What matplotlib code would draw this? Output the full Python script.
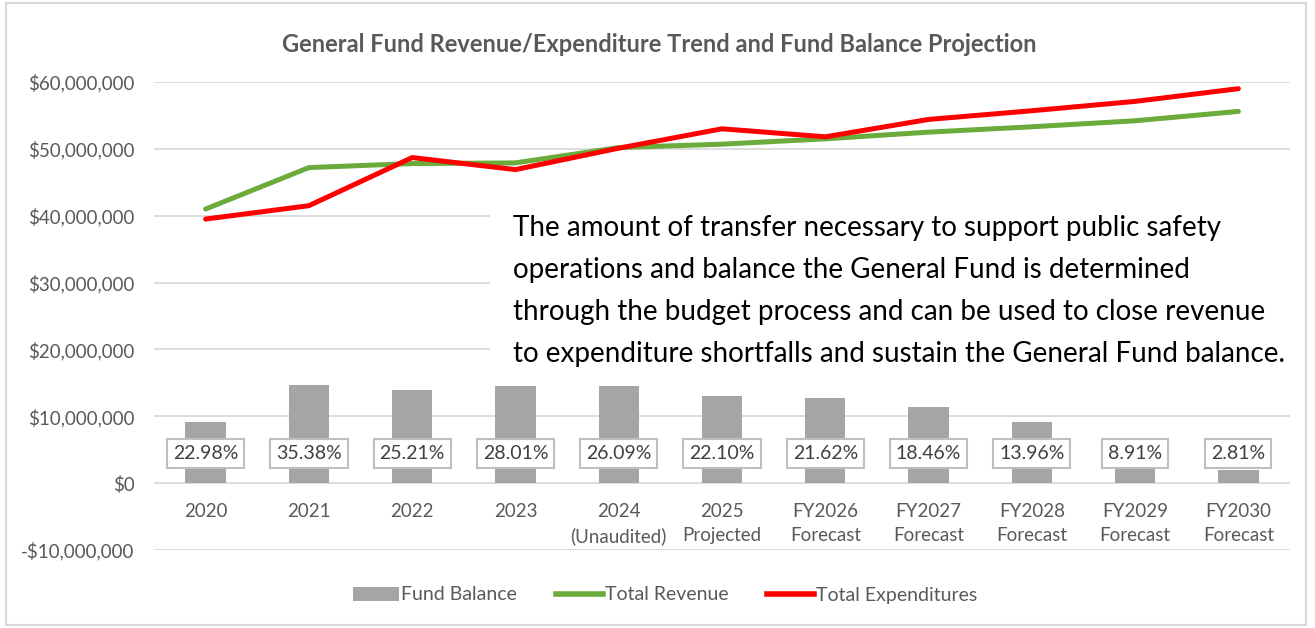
import matplotlib
matplotlib.use("Agg")
import matplotlib.pyplot as plt
from matplotlib.patches import Rectangle
from matplotlib.ticker import FuncFormatter, MultipleLocator
from matplotlib.lines import Line2D

plt.rcParams['font.family'] = ['Lato', 'DejaVu Sans']

categories = ["2020", "2021", "2022", "2023", "2024\n(Unaudited)", "2025\nProjected",
              "FY2026\nForecast", "FY2027\nForecast", "FY2028\nForecast",
              "FY2029\nForecast", "FY2030\nForecast"]
fund_balance = [9.1e6, 14.7e6, 13.9e6, 14.6e6, 14.6e6, 13.1e6, 12.7e6, 11.4e6, 9.2e6, 5.1e6, 2.0e6]
total_revenue = [41.0e6, 47.2e6, 47.8e6, 47.9e6, 50.2e6, 50.7e6, 51.5e6, 52.5e6, 53.3e6, 54.2e6, 55.6e6]
total_expenditures = [39.5e6, 41.5e6, 48.7e6, 46.9e6, 50.1e6, 53.0e6, 51.8e6, 54.4e6, 55.7e6, 57.1e6, 59.0e6]
pct_labels = ["22.98%", "35.38%", "25.21%", "28.01%", "26.09%", "22.10%",
              "21.62%", "18.46%", "13.96%", "8.91%", "2.81%"]
title = "General Fund Revenue/Expenditure Trend and Fund Balance Projection"
note_lines = ["The amount of transfer necessary to support public safety",
              "operations and balance the General Fund is determined",
              "through the budget process and can be used to close revenue",
              "to expenditure shortfalls and sustain the General Fund balance."]

W, H = 1315, 628
fig = plt.figure(figsize=(W / 100, H / 100), dpi=100)
ax = fig.add_axes([154 / W, (H - 550) / H, (1290 - 154) / W, (550 - 82) / H])

x = list(range(len(categories)))
gray_text = "#595959"

ax.bar(x, fund_balance, width=0.39, color="#A5A5A5", zorder=2, label="Fund Balance")
ax.plot(x, total_revenue, color="#6AAB3C", lw=3.6, zorder=4, solid_capstyle="round",
        label="Total Revenue")
ax.plot(x, total_expenditures, color="#FF0000", lw=3.6, zorder=5, solid_capstyle="round",
        label="Total Expenditures")

for xi, lab in zip(x, pct_labels):
    ax.text(xi, 4.4e6, lab, ha="center", va="center", fontsize=14, color="#404040",
            zorder=6, bbox=dict(boxstyle="square,pad=0.3", fc="white", ec="#BFBFBF", lw=1.5))

ax.set_xlim(-0.5, len(categories) - 0.5)
ax.set_ylim(-10e6, 60e6)
ax.yaxis.set_major_locator(MultipleLocator(10e6))
ax.yaxis.set_major_formatter(FuncFormatter(
    lambda v, p: ("-$" if v < 0 else "$") + f"{abs(v):,.0f}"))
ax.spines['bottom'].set_position(('data', 0))
ax.set_xticks(x)
ax.set_xticklabels(categories, linespacing=1.45)
ax.tick_params(axis="both", length=0, labelsize=13.5, colors=gray_text)
ax.tick_params(axis="y", pad=14)
ax.tick_params(axis="x", pad=14.5)
ax.grid(axis="y", color="#D9D9D9", lw=1.3, zorder=0)
ax.set_axisbelow(True)
for s in ax.spines.values():
    s.set_visible(False)

# white block behind the note
fig.patches.append(Rectangle((490 / W, (H - 378) / H), (1296 - 490) / W, (378 - 207) / H,
                             transform=fig.transFigure, fc="white", ec="none", zorder=1))
ax.set_zorder(0)
ax.patch.set_visible(False)

fig.text(659 / W, 1 - 45 / H, title, ha="center", va="center", fontsize=17,
         fontweight="bold", color=gray_text)

for i, line in enumerate(note_lines):
    fig.text(513 / W, 1 - (228 + 42 * i) / H, line, ha="left", va="center",
             fontsize=20, color="black", zorder=3)

handles = [Rectangle((0, 0), 1, 1, fc="#A5A5A5", ec="none"),
           Line2D([], [], color="#6AAB3C", lw=4),
           Line2D([], [], color="#FF0000", lw=4)]
fig.legend(handles, ["Fund Balance", "Total Revenue", "Total Expenditures"],
           loc="center", bbox_to_anchor=(665 / W, 1 - 595 / H), ncol=3, frameon=False,
           fontsize=14, labelcolor=gray_text, handlelength=2.4, handletextpad=0.1,
           columnspacing=2.0, handleheight=0.75)

fig.patches.append(Rectangle((6 / W, 3 / H), (1306 - 6) / W, (625 - 3) / H,
                             transform=fig.transFigure, fc="none", ec="#D9D9D9", lw=1.5))

fig.savefig("out.png", dpi=100, facecolor="white")
